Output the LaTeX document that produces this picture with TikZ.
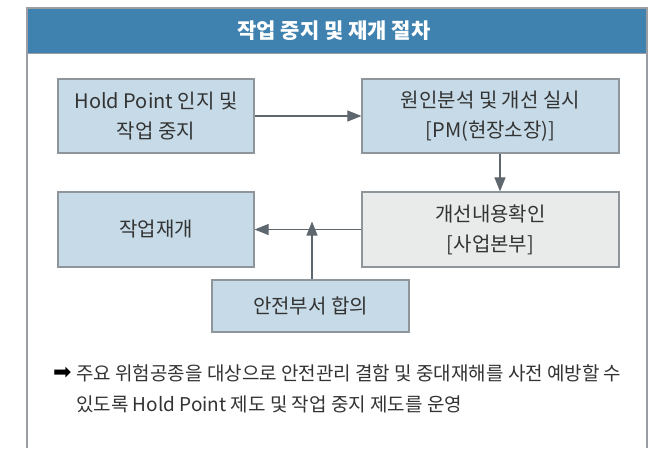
\documentclass[tikz,border=0pt]{standalone}
\usepackage{fontspec}
\setmainfont{Noto Sans CJK KR}
\usetikzlibrary{arrows.meta}
\definecolor{hdr}{HTML}{3F82B0}
\definecolor{bluefill}{HTML}{C6DBE7}
\definecolor{grayfill}{HTML}{E9EBEB}
\definecolor{boxline}{HTML}{8E969C}
\definecolor{arr}{HTML}{5E666E}
\definecolor{frameline}{HTML}{9A9EA2}
\definecolor{txt}{HTML}{333333}
\tikzset{
  stepbox/.style={draw=boxline, line width=1.2pt, fill=bluefill, inner sep=0pt, align=center,
    text=txt, font=\fontsize{20}{30}\selectfont},
  graybox/.style={stepbox, fill=grayfill},
  conn/.style={draw=arr, line width=1.1pt, -{Triangle[length=14pt,width=11pt]}},
  notetext/.style={anchor=west, text=txt, font=\fontsize{19}{22}\selectfont, inner sep=0pt}
}
\begin{document}
\begin{tikzpicture}[x=1pt,y=-1pt]
\useasboundingbox (0,0) rectangle (663,448);
% frame
\fill[white] (27,8) rectangle (647,448);
\fill[hdr] (27,8) rectangle (647,53);
\draw[frameline, line width=1.5pt] (27,448) -- (27,8) -- (647,8) -- (647,448);
\draw[frameline, line width=1pt] (27,53) -- (647,53);
\node[text=white, font=\fontsize{21}{24}\selectfont\bfseries] (title) at (334,31) {작업 중지 및 재개 절차};
% boxes
\node[stepbox, minimum width=196pt, minimum height=74pt] (b1) at (156,116) {Hold Point 인지 및\\작업 중지};
\node[stepbox, minimum width=257pt, minimum height=74pt] (b2) at (490.5,116) {원인분석 및 개선 실시\\{[}PM(현장소장){]}};
\node[graybox, minimum width=257pt, minimum height=75pt] (b3) at (490.5,229.5) {개선내용확인\\{[}사업본부{]}};
\node[stepbox, minimum width=196pt, minimum height=75pt] (b4) at (156,229.5) {작업재개};
\node[stepbox, minimum width=197pt, minimum height=52pt] (b5) at (310.5,306) {안전부서 합의};
% connectors
\draw[conn] (b1.east) -- (b2.west);
\draw[conn] (b2.south -| 500,0) -- (b3.north -| 500,0);
\draw[conn] (b3.west) -- (b4.east);
\coordinate (j) at (312,229.5);
\draw[conn] (b5.north -| j) -- ([yshift=8pt]j);
% note
\node[notetext, text=black] (arrow) at (53,373) {\fontspec{DejaVu Sans}\fontsize{22}{24}\selectfont ➡};
\node[notetext] (n1) at (76,373) {주요 위험공종을 대상으로 안전관리 결함 및 중대재해를 사전 예방할 수};
\node[notetext] (n2) at (76,404) {있도록 Hold Point 제도 및 작업 중지 제도를 운영};
\end{tikzpicture}
\end{document}
